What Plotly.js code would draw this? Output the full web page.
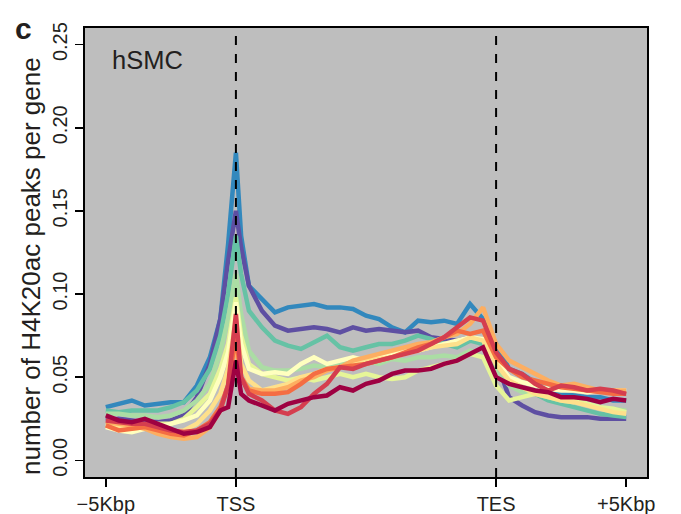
<!DOCTYPE html>
<html>
<head>
<meta charset="utf-8">
<script src="https://cdn.plot.ly/plotly-3.0.1.min.js"></script>
<style>html,body{margin:0;padding:0;background:#fff;}#chart{width:681px;height:514px;}</style>
</head>
<body>
<div id="chart"></div>
<script>
// bin positions: 0 = -5Kbp, 50 = TSS, 150 = TES, 200 = +5Kbp
const X = [0,5,10,15,20,25,30,35,40,44,47,50,52,55,60,65,70,75,80,85,90,95,100,105,110,115,120,125,130,135,140,145,150,155,160,165,170,175,180,185,190,195,200];

const xTickVals = [0, 50, 150, 200];
const xTickText = ["\u22125Kbp", "TSS", "TES", "+5Kbp"];
const yTickVals = [0, 0.05, 0.10, 0.15, 0.20, 0.25];
const yTickText = ["0.00", "0.05", "0.10", "0.15", "0.20", "0.25"];

const blue = [0.032,0.034,0.036,0.033,0.034,0.035,0.035,0.045,0.062,0.085,0.130,0.185,0.135,0.105,0.097,0.089,0.092,0.093,0.094,0.092,0.092,0.091,0.087,0.085,0.080,0.077,0.084,0.083,0.084,0.082,0.094,0.085,0.070,0.055,0.052,0.047,0.042,0.040,0.039,0.038,0.038,0.036,0.036];
const purple = [0.024,0.025,0.024,0.023,0.023,0.024,0.027,0.038,0.058,0.085,0.120,0.150,0.128,0.105,0.090,0.081,0.078,0.079,0.080,0.079,0.077,0.080,0.078,0.079,0.078,0.077,0.078,0.074,0.073,0.072,0.074,0.072,0.060,0.038,0.033,0.029,0.027,0.026,0.026,0.026,0.025,0.025,0.025];
const teal = [0.030,0.029,0.030,0.030,0.030,0.032,0.035,0.042,0.055,0.075,0.100,0.135,0.112,0.090,0.080,0.072,0.069,0.067,0.071,0.075,0.068,0.066,0.068,0.070,0.070,0.072,0.075,0.073,0.070,0.068,0.072,0.070,0.060,0.047,0.043,0.040,0.036,0.034,0.032,0.030,0.028,0.027,0.026];
const lightGreen = [0.028,0.028,0.027,0.027,0.026,0.027,0.030,0.036,0.046,0.065,0.085,0.112,0.088,0.066,0.056,0.054,0.054,0.055,0.057,0.056,0.058,0.058,0.060,0.058,0.061,0.060,0.062,0.062,0.063,0.062,0.066,0.062,0.055,0.045,0.041,0.040,0.038,0.036,0.035,0.034,0.032,0.031,0.030];
const yellowGreen = [0.022,0.021,0.020,0.021,0.022,0.022,0.025,0.032,0.040,0.055,0.070,0.098,0.075,0.058,0.052,0.050,0.048,0.050,0.048,0.050,0.052,0.050,0.052,0.050,0.049,0.050,0.054,0.056,0.058,0.060,0.064,0.062,0.045,0.036,0.038,0.040,0.040,0.038,0.036,0.034,0.032,0.031,0.029];
const lightYellow = [0.020,0.018,0.017,0.019,0.020,0.022,0.024,0.027,0.036,0.050,0.065,0.095,0.070,0.055,0.052,0.053,0.052,0.058,0.062,0.058,0.060,0.062,0.060,0.062,0.064,0.066,0.066,0.068,0.070,0.072,0.074,0.073,0.060,0.050,0.047,0.045,0.043,0.042,0.042,0.041,0.042,0.042,0.042];
const lightOrange = [0.021,0.020,0.019,0.020,0.018,0.017,0.018,0.022,0.030,0.040,0.055,0.085,0.058,0.048,0.042,0.044,0.046,0.050,0.052,0.055,0.056,0.058,0.060,0.061,0.062,0.064,0.066,0.068,0.069,0.070,0.074,0.072,0.058,0.048,0.044,0.040,0.038,0.036,0.035,0.033,0.031,0.029,0.028];
const orange = [0.023,0.022,0.021,0.019,0.016,0.014,0.013,0.014,0.020,0.030,0.045,0.070,0.050,0.043,0.042,0.042,0.044,0.048,0.050,0.054,0.056,0.060,0.062,0.064,0.066,0.068,0.070,0.071,0.074,0.076,0.082,0.092,0.070,0.060,0.056,0.052,0.048,0.045,0.046,0.044,0.042,0.042,0.042];
const darkOrange = [0.021,0.018,0.019,0.020,0.018,0.016,0.015,0.018,0.023,0.032,0.045,0.075,0.050,0.042,0.040,0.040,0.041,0.046,0.052,0.055,0.056,0.057,0.058,0.060,0.062,0.065,0.068,0.070,0.074,0.078,0.076,0.078,0.062,0.055,0.050,0.048,0.046,0.044,0.043,0.042,0.041,0.040,0.040];
const red = [0.024,0.023,0.022,0.022,0.020,0.018,0.017,0.018,0.022,0.030,0.045,0.088,0.050,0.040,0.036,0.030,0.028,0.032,0.040,0.046,0.056,0.055,0.058,0.060,0.062,0.064,0.066,0.070,0.074,0.080,0.086,0.084,0.065,0.055,0.052,0.046,0.042,0.045,0.044,0.042,0.043,0.042,0.040];
const darkRed = [0.027,0.024,0.023,0.025,0.022,0.019,0.016,0.017,0.020,0.030,0.032,0.060,0.040,0.036,0.033,0.030,0.034,0.036,0.038,0.039,0.044,0.042,0.046,0.048,0.052,0.054,0.054,0.055,0.058,0.060,0.064,0.068,0.050,0.046,0.044,0.042,0.041,0.038,0.038,0.037,0.035,0.037,0.036];

const seriesList = [blue, purple, teal, lightGreen, yellowGreen, lightYellow, lightOrange, orange, darkOrange, red, darkRed];
const colors = ["#3288BD","#5E4FA2","#66C2A5","#ABDDA4","#E6F598","#FFFFBF","#FEE08B","#FDAE61","#F46D43","#D53E4F","#9E0142"];

const FONT = "Liberation Sans, Arial, sans-serif";
const TXT = "#231F20";

const traces = seriesList.map((s, i) => ({
  x: X, y: s, type: "scatter", mode: "lines",
  line: {color: colors[i], width: 4.5},
  hoverinfo: "skip"
}));

const layout = {
  width: 681, height: 514,
  margin: {l: 85, r: 34, t: 28, b: 37, pad: 0},
  paper_bgcolor: "#ffffff",
  plot_bgcolor: "#BEBEBE",
  showlegend: false,
  font: {family: FONT, color: TXT},
  xaxis: {
    range: [-8, 208],
    tickvals: xTickVals, ticktext: xTickText,
    ticks: "outside", ticklen: 8, tickwidth: 1.5, tickcolor: "#000",
    showline: true, linewidth: 2, linecolor: "#000", mirror: true,
    showgrid: false, zeroline: false,
    tickfont: {family: FONT, size: 20, color: TXT}
  },
  yaxis: {
    range: [-0.01, 0.26],
    tickvals: yTickVals, ticktext: yTickText, tickangle: -90,
    ticks: "outside", ticklen: 8, tickwidth: 1.5, tickcolor: "#000",
    showline: true, linewidth: 2, linecolor: "#000", mirror: true,
    showgrid: false, zeroline: false,
    tickfont: {family: FONT, size: 20, color: TXT}
  },
  shapes: [50, 150].map(v => ({
    type: "line", xref: "x", yref: "paper", x0: v, x1: v, y0: 0, y1: 1,
    line: {color: "#000", width: 2, dash: "dash"}, layer: "above"
  })),
  annotations: [
    {text: "number of H4K20ac peaks per gene", textangle: -90, xref: "paper", yref: "paper",
     x: -0.097, y: 0.471, xanchor: "center", yanchor: "middle", showarrow: false,
     font: {family: FONT, size: 26, color: TXT}},
    {text: "hSMC", xref: "paper", yref: "paper", x: 0.045, y: 0.965, xanchor: "left", yanchor: "top",
     showarrow: false, font: {family: FONT, size: 25.5, color: TXT}},
    {text: "<b>c</b>", xref: "paper", yref: "paper", x: -0.109, y: 1.0, xanchor: "center", yanchor: "middle",
     showarrow: false, font: {family: FONT, size: 30, color: TXT}}
  ]
};

Plotly.newPlot("chart", traces, layout, {displayModeBar: false, staticPlot: true});
</script>
</body>
</html>
